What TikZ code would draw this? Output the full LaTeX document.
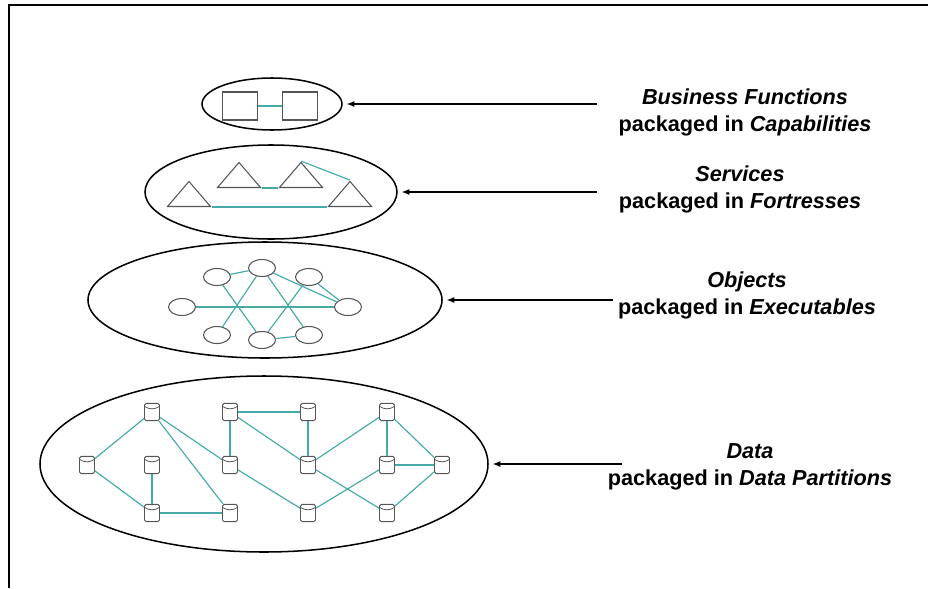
\documentclass[tikz,border=0pt]{standalone}
\usepackage{fontspec}
\setmainfont{Liberation Sans}
\usetikzlibrary{arrows.meta,shapes.geometric}
\definecolor{linkColor}{RGB}{70,170,170}
\definecolor{shapeColor}{RGB}{85,85,85}
\tikzset{layer/.style={draw=black, ellipse, line width=1.3pt, inner sep=0pt}}
\tikzset{function/.style={draw=shapeColor, rectangle, line width=0.9pt, inner sep=0pt, minimum width=1.05cm, minimum height=0.84cm}}
\tikzset{service/.style={draw=shapeColor, isosceles triangle, isosceles triangle stretches, shape border rotate=90, anchor=lower side, line width=0.9pt, inner sep=0pt, minimum width=1.29cm, minimum height=0.75cm}}
\tikzset{object/.style={draw=shapeColor, ellipse, line width=0.9pt, inner sep=0pt, minimum width=0.81cm, minimum height=0.51cm}}
\tikzset{datastore/.style={draw=shapeColor, rectangle, rounded corners=1.5pt, line width=0.8pt, inner sep=0pt, minimum width=0.45cm, minimum height=0.52cm,
	path picture={\draw[shapeColor, line width=0.7pt] ([yshift=-0.09cm]path picture bounding box.north west) to[bend right=35] ([yshift=-0.09cm]path picture bounding box.north east);}}}
\tikzset{caption/.style={align=center, font=\fontsize{18.5}{23}\selectfont\bfseries}}
\tikzset{link/.style={draw=linkColor, line width=1pt}}
\tikzstyle{arrow} = [-{Latex[length=0.24cm, width=0.18cm]}, line width=1.3pt, shorten >=3pt]

\begin{document}
\begin{tikzpicture}[x=0.03cm, y=-0.03cm]
	\useasboundingbox (0,0) rectangle (928,588);
	% Frame
	\draw[line width=1.7pt] (9,588) -- (9,5) -- (928,5);

	% Nodes
	\node (caps) [layer, minimum width=4.2cm, minimum height=1.56cm] at (272,104) {};
	\node (sqA) [function] at (240,106) {};
	\node (sqB) [function] at (300,106) {};

	\node (forts) [layer, minimum width=7.56cm, minimum height=2.82cm] at (271,192) {};
	\node (triA) [service] at (189,207) {};
	\node (triB) [service] at (239,188) {};
	\node (triC) [service] at (301,188) {};
	\node (triD) [service] at (350,207) {};

	\node (execs) [layer, minimum width=10.62cm, minimum height=3.48cm] at (265,300) {};
	\node (objA) [object] at (217,277) {};
	\node (objB) [object] at (262,268) {};
	\node (objC) [object] at (309,277) {};
	\node (objD) [object] at (182,307) {};
	\node (objE) [object] at (348,307) {};
	\node (objF) [object] at (217,335) {};
	\node (objG) [object] at (262,340) {};
	\node (objH) [object] at (309,335) {};

	\node (parts) [layer, minimum width=13.44cm, minimum height=5.28cm] at (264,464) {};
	\node (dbA) [datastore] at (152,412) {};
	\node (dbB) [datastore] at (230,412) {};
	\node (dbC) [datastore] at (308,412) {};
	\node (dbD) [datastore] at (387,412) {};
	\node (dbE) [datastore] at (87,465) {};
	\node (dbF) [datastore] at (152,465) {};
	\node (dbG) [datastore] at (230,465) {};
	\node (dbH) [datastore] at (308,465) {};
	\node (dbI) [datastore] at (387,465) {};
	\node (dbJ) [datastore] at (442,465) {};
	\node (dbK) [datastore] at (152,513) {};
	\node (dbL) [datastore] at (230,513) {};
	\node (dbM) [datastore] at (308,513) {};
	\node (dbN) [datastore] at (387,513) {};

	\node (capsText) [caption] at (745,112) {\textit{Business Functions}\\packaged in \textit{Capabilities}};
	\node (fortsText) [caption] at (740,189) {\textit{Services}\\packaged in \textit{Fortresses}};
	\node (execsText) [caption] at (747,295) {\textit{Objects}\\packaged in \textit{Executables}};
	\node (partsText) [caption] at (750,467) {\textit{Data}\\packaged in \textit{Data Partitions}};

	\coordinate (capsFrom) at (597,104);
	\coordinate (fortsFrom) at (597,192);
	\coordinate (execsFrom) at (613,300);
	\coordinate (partsFrom) at (622,464);

	% Connectors
	\begin{scope}[link]
	\draw (sqA) -- (sqB);

	\draw (triB.right corner) -- (triC.left corner);
	\draw (triC.apex) -- (triD.apex);
	\draw (triA.right corner) -- (triD.left corner);

	\draw (objD) -- (objE);
	\draw (objA) -- (objB);
	\draw (objA) -- (objG);
	\draw (objB) -- (objF);
	\draw (objB) -- (objH);
	\draw (objB) -- (objE);
	\draw (objC) -- (objE);
	\draw (objC) -- (objG);
	\draw (objG) -- (objH);

	\draw (dbA) -- (dbE);
	\draw (dbA) -- (dbG);
	\draw (dbA) -- (dbL);
	\draw (dbE) -- (dbK);
	\draw (dbF) -- (dbK);
	\draw (dbK) -- (dbL);
	\draw (dbB) -- (dbC);
	\draw (dbB) -- (dbG);
	\draw (dbB) -- (dbH);
	\draw (dbC) -- (dbH);
	\draw (dbG) -- (dbM);
	\draw (dbH) -- (dbD);
	\draw (dbH) -- (dbN);
	\draw (dbD) -- (dbI);
	\draw (dbD) -- (dbJ);
	\draw (dbI) -- (dbJ);
	\draw (dbM) -- (dbI);
	\draw (dbN) -- (dbJ);
	\end{scope}

	\draw [arrow] (capsFrom) -- (caps);
	\draw [arrow] (fortsFrom) -- (forts);
	\draw [arrow] (execsFrom) -- (execs);
	\draw [arrow] (partsFrom) -- (parts);
\end{tikzpicture}
\end{document}
